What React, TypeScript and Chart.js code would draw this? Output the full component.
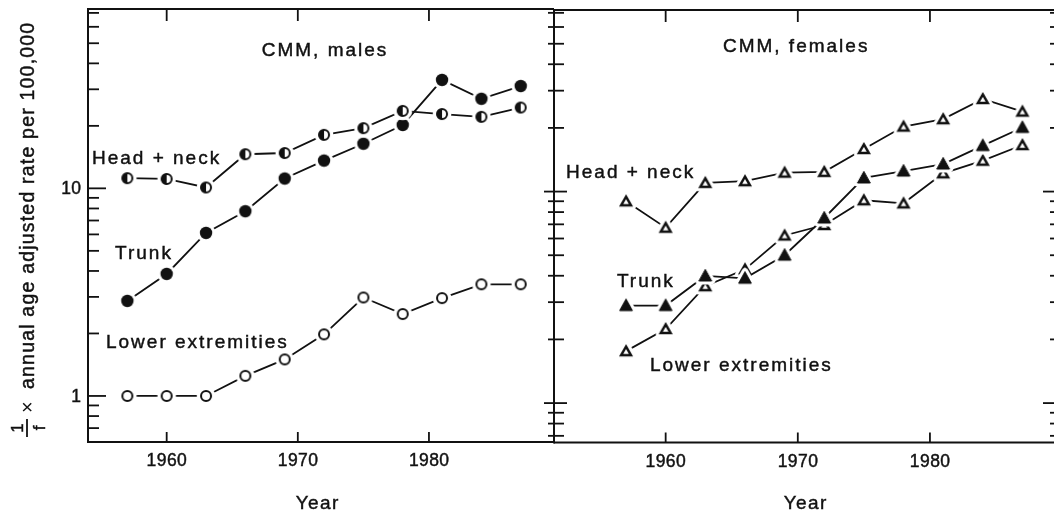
import React, { useEffect, useRef } from 'react';
import { Chart, registerables } from 'chart.js';

Chart.register(...registerables);

// ---- Data ----
const years = [1957, 1960, 1963, 1966, 1969, 1972, 1975, 1978, 1981, 1984, 1987];

const maleHeadNeck = [11.2, 11.1, 10.1, 14.6, 14.8, 18.1, 19.5, 23.6, 22.8, 22.1, 24.5];
const maleTrunk = [2.87, 3.87, 6.1, 7.76, 11.15, 13.6, 16.4, 20.2, 33.3, 27.0, 31.1];
const maleLower = [1.0, 1.0, 1.0, 1.25, 1.5, 1.98, 2.98, 2.48, 2.96, 3.45, 3.45];

const femaleHeadNeck = [9.0, 6.75, 11.0, 11.2, 12.3, 12.4, 15.9, 20.3, 22.0, 27.4, 23.9];
const femaleTrunk = [2.89, 2.89, 3.99, 3.89, 5.0, 7.5, 11.6, 12.5, 13.5, 16.5, 20.1];
const femaleLower = [1.76, 2.24, 3.57, 4.29, 6.2, 6.95, 9.1, 8.8, 12.2, 14.0, 16.6];

const xTickYears = [1960, 1970, 1980];
const yLabelValues = [1, 10];
const yMinorValues = [0.7, 0.8, 0.9, 2, 3, 4, 5, 6, 7, 8, 9, 20, 30, 40, 50, 60, 70];

const maleTitle = 'CMM, males';
const femaleTitle = 'CMM, females';
const xTitle = 'Year';
const yTitleText = 'annual age adjusted rate per 100,000';

// series labels placed in data coordinates (year, value) – left aligned, baseline
const maleLabels = [
  { text: 'Head + neck', x: 1954.3, y: 13.1 },
  { text: 'Trunk', x: 1956.06, y: 4.55 },
  { text: 'Lower extremities', x: 1955.37, y: 1.7 },
];
const femaleLabels = [
  { text: 'Head + neck', x: 1952.46, y: 11.6 },
  { text: 'Trunk', x: 1956.31, y: 3.54 },
  { text: 'Lower extremities', x: 1958.81, y: 1.42 },
];

const FONT = "'Liberation Sans', Arial, Helvetica, sans-serif";
const INK = '#111';

type MarkerKind = 'halfCircle' | 'filledCircle' | 'openCircle' | 'filledTriangle' | 'openTriangle';

function makeMarker(kind: MarkerKind): HTMLCanvasElement {
  const size = 24;
  const c = document.createElement('canvas');
  c.width = size;
  c.height = size;
  const g = c.getContext('2d') as CanvasRenderingContext2D;
  const cx = size / 2;
  const cy = size / 2;
  g.lineJoin = 'miter';
  if (kind === 'filledTriangle' || kind === 'openTriangle') {
    const tri = () => {
      g.beginPath();
      g.moveTo(cx, cy - 6.6);
      g.lineTo(cx + 6.4, cy + 5);
      g.lineTo(cx - 6.4, cy + 5);
      g.closePath();
    };
    tri();
    g.fillStyle = '#fff';
    g.strokeStyle = '#fff';
    g.lineWidth = 7;
    g.lineJoin = 'round';
    g.stroke();
    g.fill();
    g.lineJoin = 'miter';
    if (kind === 'filledTriangle') {
      tri();
      g.fillStyle = INK;
      g.fill();
      g.strokeStyle = INK;
      g.lineWidth = 1;
      g.stroke();
    } else {
      g.beginPath();
      g.moveTo(cx, cy - 4.6);
      g.lineTo(cx + 4.9, cy + 3.9);
      g.lineTo(cx - 4.9, cy + 3.9);
      g.closePath();
      g.strokeStyle = INK;
      g.lineWidth = 2.5;
      g.stroke();
    }
    return c;
  }
  g.fillStyle = '#fff';
  g.beginPath();
  g.arc(cx, cy, 9.3, 0, Math.PI * 2);
  g.fill();
  if (kind === 'filledCircle') {
    g.fillStyle = INK;
    g.beginPath();
    g.arc(cx, cy, 6.2, 0, Math.PI * 2);
    g.fill();
  } else if (kind === 'openCircle') {
    g.strokeStyle = INK;
    g.lineWidth = 2;
    g.beginPath();
    g.arc(cx, cy, 5, 0, Math.PI * 2);
    g.stroke();
  } else {
    g.fillStyle = INK;
    g.beginPath();
    g.moveTo(cx, cy);
    g.arc(cx, cy, 5.5, Math.PI / 2, (3 * Math.PI) / 2);
    g.closePath();
    g.fill();
    g.strokeStyle = INK;
    g.lineWidth = 2;
    g.beginPath();
    g.arc(cx, cy, 5, 0, Math.PI * 2);
    g.stroke();
  }
  return c;
}

function drawText(
  ctx: CanvasRenderingContext2D,
  text: string,
  x: number,
  y: number,
  size: number,
  align: CanvasTextAlign,
  spacing: number,
  baseline: CanvasTextBaseline = 'alphabetic'
) {
  ctx.save();
  ctx.font = `${size}px ${FONT}`;
  (ctx as any).letterSpacing = `${spacing}px`;
  ctx.textAlign = align;
  ctx.textBaseline = baseline;
  ctx.fillStyle = INK;
  ctx.strokeStyle = INK;
  ctx.lineWidth = 0.45;
  const shift = align === 'center' ? spacing / 2 : align === 'right' ? spacing : 0;
  ctx.fillText(text, x + shift, y);
  ctx.strokeText(text, x + shift, y);
  ctx.restore();
}

type PanelOpts = {
  side: 'left' | 'right';
  title: string;
  titleX: number;
  titleY: number;
  labels: { text: string; x: number; y: number }[];
  yearCenter: number;
};

function makePanelPlugin(opts: PanelOpts) {
  return {
    id: 'panelFrame' + opts.side,
    afterDraw(chart: any) {
      const ctx: CanvasRenderingContext2D = chart.ctx;
      const { left, right, top, bottom } = chart.chartArea;
      const xs = chart.scales.x;
      const ys = chart.scales.y;
      ctx.save();
      ctx.strokeStyle = INK;
      ctx.lineCap = 'butt';
      const line = (x1: number, y1: number, x2: number, y2: number, w = 2) => {
        ctx.lineWidth = w;
        ctx.beginPath();
        ctx.moveTo(x1, y1);
        ctx.lineTo(x2, y2);
        ctx.stroke();
      };
      line(left, top, right + (opts.side === 'left' ? 1 : 0), top);
      line(left, bottom, right + (opts.side === 'left' ? 1 : 0), bottom);
      line(left, top - 1, left, bottom + 1);
      if (opts.side === 'right') line(right, top - 1, right, bottom + 1);

      const all = [...yLabelValues.map((v) => ({ v, major: true })), ...yMinorValues.map((v) => ({ v, major: false }))];
      all.forEach(({ v, major }) => {
        const y = ys.getPixelForValue(v);
        if (y < top + 2 || y > bottom - 2) return;
        if (opts.side === 'left') {
          line(left, y, left + (major ? 18 : 11), y, 1.8);
        } else {
          line(left - (major ? 10 : 6), y, left + (major ? 13 : 10), y, 1.8);
          line(right - (major ? 13 : 6), y, right, y, 1.8);
        }
      });
      xTickYears.forEach((yr) => {
        const x = xs.getPixelForValue(yr);
        line(x, bottom, x, bottom - 10, 1.8);
        line(x, top, x, top + 12, 1.8);
      });
      ctx.restore();

      xTickYears.forEach((yr) => {
        drawText(ctx, String(yr), xs.getPixelForValue(yr), bottom + 24, 17.5, 'center', 0.4);
      });
      if (opts.side === 'left') {
        yLabelValues.forEach((v) => {
          drawText(ctx, String(v), left - 7, ys.getPixelForValue(v) + 1, 17.5, 'right', 0.4, 'middle');
        });
      }

      drawText(ctx, opts.title, xs.getPixelForValue(opts.titleX), ys.getPixelForValue(opts.titleY), 19, 'center', 2);
      opts.labels.forEach((l) => {
        drawText(ctx, l.text, xs.getPixelForValue(l.x), ys.getPixelForValue(l.y), 19, 'left', 2);
      });
      drawText(ctx, xTitle, opts.yearCenter, 509, 19, 'center', 1.4);

      if (opts.side === 'left') {
        ctx.save();
        ctx.translate(34, 389);
        ctx.rotate(-Math.PI / 2);
        ctx.font = `19.5px ${FONT}`;
        (ctx as any).letterSpacing = '1.2px';
        ctx.fillStyle = INK;
        ctx.strokeStyle = INK;
        ctx.lineWidth = 0.45;
        ctx.textAlign = 'left';
        ctx.textBaseline = 'alphabetic';
        ctx.fillText(yTitleText, 0, 0);
        ctx.strokeText(yTitleText, 0, 0);
        ctx.restore();

        ctx.save();
        ctx.translate(34, 413);
        ctx.rotate(-Math.PI / 2);
        ctx.font = `20px ${FONT}`;
        ctx.fillStyle = INK;
        ctx.textAlign = 'left';
        ctx.fillText('\u00d7', 0, 0);
        ctx.restore();

        ctx.save();
        ctx.translate(27, 428);
        ctx.rotate(-Math.PI / 2);
        ctx.strokeStyle = INK;
        ctx.lineWidth = 1.8;
        ctx.beginPath();
        ctx.moveTo(-9, 0);
        ctx.lineTo(9, 0);
        ctx.stroke();
        ctx.font = `17px ${FONT}`;
        ctx.fillStyle = INK;
        ctx.strokeStyle = INK;
        ctx.lineWidth = 0.45;
        ctx.textAlign = 'center';
        ctx.textBaseline = 'alphabetic';
        ctx.fillText('1', 0, -4);
        ctx.strokeText('1', 0, -4);
        ctx.fillText('f', 0, 18);
        ctx.strokeText('f', 0, 18);
        ctx.restore();
      }
    },
  };
}

function series(values: number[], marker: HTMLCanvasElement) {
  return {
    data: years.map((yr, i) => ({ x: yr, y: values[i] })),
    borderColor: INK,
    borderWidth: 1.8,
    pointStyle: marker as any,
    pointRadius: 6,
    pointHoverRadius: 6,
    tension: 0,
    fill: false,
  };
}

function baseOptions(xMin: number, xMax: number, yMin: number, yMax: number, padding: any) {
  return {
    animation: false as const,
    responsive: false,
    events: [] as any[],
    layout: { padding, autoPadding: false },
    plugins: {
      legend: { display: false },
      tooltip: { enabled: false },
      title: { display: false },
    },
    scales: {
      x: { type: 'linear' as const, min: xMin, max: xMax, display: false },
      y: { type: 'logarithmic' as const, min: yMin, max: yMax, display: false },
    },
  };
}

export default function App() {
  const leftRef = useRef<HTMLCanvasElement>(null);
  const rightRef = useRef<HTMLCanvasElement>(null);

  useEffect(() => {
    if (!leftRef.current || !rightRef.current) return;
    const half = makeMarker('halfCircle');
    const filledC = makeMarker('filledCircle');
    const openC = makeMarker('openCircle');
    const filledT = makeMarker('filledTriangle');
    const openT = makeMarker('openTriangle');

    const left = new Chart(leftRef.current, {
      type: 'line',
      data: {
        datasets: [series(maleHeadNeck, half), series(maleTrunk, filledC), series(maleLower, openC)],
      },
      options: baseOptions(1954.0, 1989.46, 0.644, 73.1, { left: 88, right: 7, top: 9, bottom: 73 }) as any,
      plugins: [
        makePanelPlugin({
          side: 'left',
          title: maleTitle,
          titleX: 1972.0,
          titleY: 43.2,
          labels: maleLabels,
          yearCenter: 317,
        }),
      ],
    });

    const right = new Chart(rightRef.current, {
      type: 'line',
      data: {
        datasets: [series(femaleHeadNeck, openT), series(femaleTrunk, filledT), series(femaleLower, openT)],
      },
      options: baseOptions(1951.55, 1989.54, 0.651, 72.2, { left: 14, right: 0, top: 10, bottom: 72.5 }) as any,
      plugins: [
        makePanelPlugin({
          side: 'right',
          title: femaleTitle,
          titleX: 1969.8,
          titleY: 45.7,
          labels: femaleLabels,
          yearCenter: 805 - 540,
        }),
      ],
    });

    return () => {
      left.destroy();
      right.destroy();
    };
  }, []);

  return (
    <div
      style={{
        position: 'fixed',
        left: 0,
        top: 0,
        width: 1054,
        height: 515,
        overflow: 'hidden',
        background: '#fff',
      }}
    >
      <canvas
        ref={leftRef}
        width={560}
        height={515}
        style={{ position: 'absolute', left: 0, top: 0, width: 560, height: 515 }}
      />
      <canvas
        ref={rightRef}
        width={516}
        height={515}
        style={{ position: 'absolute', left: 540, top: 0, width: 516, height: 515 }}
      />
    </div>
  );
}
